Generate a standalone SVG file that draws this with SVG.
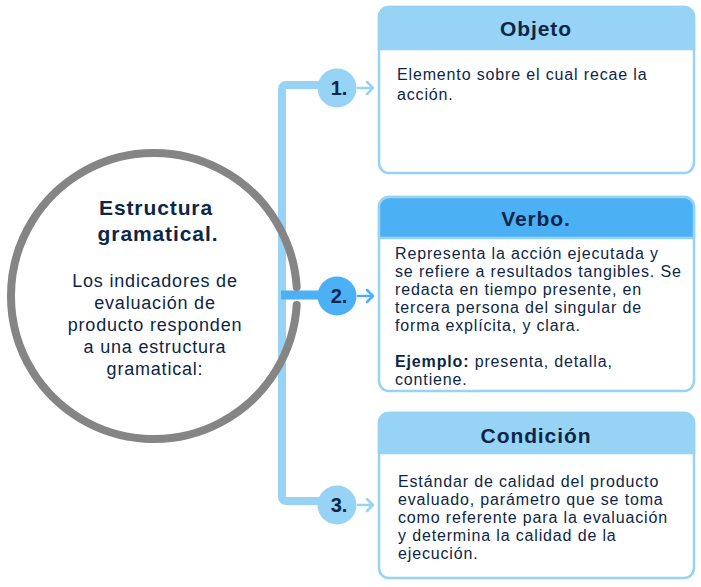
<svg xmlns="http://www.w3.org/2000/svg" width="701" height="587" viewBox="0 0 701 587">
<style>
text{font-family:"Liberation Sans",Arial,sans-serif;fill:#0d2647}
.t{font-size:21px;font-weight:bold;text-anchor:middle;letter-spacing:0.9px}
.b{font-size:16px;letter-spacing:0.85px}
.c{font-size:18px;text-anchor:middle;letter-spacing:0.8px}
.n{font-size:20px;font-weight:bold;text-anchor:middle}
.box{fill:#fff;stroke:#97d3f4;stroke-width:2.5}
.arr{fill:none;stroke:#97d3f4;stroke-width:2.5;stroke-linecap:round;stroke-linejoin:round}
</style>
<rect width="701" height="587" fill="#fff"/>
<g id="connectors">
<path d="M338 85 H286 a4 4 0 0 0 -4 4 V497 a4 4 0 0 0 4 4 H338" fill="none" stroke="#97d3f4" stroke-width="8"/>
<path d="M281 295 H338" fill="none" stroke="#4cb0f5" stroke-width="9"/>
<path class="arr" d="M358 88 H373 M367 82 L373 88 L367 94"/>
<path class="arr" d="M358 296 H373 M367 290 L373 296 L367 302" style="stroke:#4cb0f5"/>
<path class="arr" d="M358 505 H373 M367 499 L373 505 L367 511"/>
</g>
<g id="center">
<path d="M296.7 287 A143 143 0 1 0 296.7 305" fill="none" stroke="#858585" stroke-width="8" stroke-linecap="round"/>
<text class="t" x="156" y="215">Estructura</text>
<text class="t" x="158" y="241">gramatical.</text>
<text class="c" x="155" y="287">Los indicadores de</text>
<text class="c" x="155" y="309">evaluación de</text>
<text class="c" x="155" y="331">producto responden</text>
<text class="c" x="155" y="353">a una estructura</text>
<text class="c" x="155" y="375">gramatical:</text>
</g>
<g id="n1">
<circle cx="337" cy="88" r="19.5" fill="#97d3f4"/>
<text class="n" x="339" y="95">1.</text>
</g>
<g id="n2">
<circle cx="337" cy="296" r="19.5" fill="#4cb0f5"/>
<text class="n" x="339" y="303">2.</text>
</g>
<g id="n3">
<circle cx="337" cy="505" r="19.5" fill="#97d3f4"/>
<text class="n" x="339" y="512">3.</text>
</g>
<g id="objeto">
<rect class="box" x="379" y="7" width="315" height="166" rx="10"/>
<path d="M379 49 V17 a10 10 0 0 1 10 -10 H684 a10 10 0 0 1 10 10 V49 Z" fill="#97d3f4" stroke="#97d3f4" stroke-width="2.5"/>
<text class="t" x="536" y="36">Objeto</text>
<text class="b" x="397" y="80">Elemento sobre el cual recae la</text>
<text class="b" x="397" y="100">acción.</text>
</g>
<g id="verbo">
<rect class="box" x="379" y="197" width="315" height="194" rx="10"/>
<path d="M379 238 V207 a10 10 0 0 1 10 -10 H684 a10 10 0 0 1 10 10 V238 Z" fill="#4cb0f5" stroke="#97d3f4" stroke-width="2.5"/>
<text class="t" x="536" y="226">Verbo.</text>
<text class="b" x="395" y="259">Representa la acción ejecutada y</text>
<text class="b" x="395" y="277">se refiere a resultados tangibles. Se</text>
<text class="b" x="395" y="295">redacta en tiempo presente, en</text>
<text class="b" x="395" y="313">tercera persona del singular de</text>
<text class="b" x="395" y="331">forma explícita, y clara.</text>
<text class="b" x="395" y="367"><tspan font-weight="bold">Ejemplo:</tspan> presenta, detalla,</text>
<text class="b" x="395" y="385">contiene.</text>
</g>
<g id="condicion">
<rect class="box" x="379" y="413" width="315" height="165" rx="10"/>
<path d="M379 453 V423 a10 10 0 0 1 10 -10 H684 a10 10 0 0 1 10 10 V453 Z" fill="#97d3f4" stroke="#97d3f4" stroke-width="2.5"/>
<text class="t" x="536" y="443">Condición</text>
<text class="b" x="398" y="487">Estándar de calidad del producto</text>
<text class="b" x="398" y="505">evaluado, parámetro que se toma</text>
<text class="b" x="398" y="523">como referente para la evaluación</text>
<text class="b" x="398" y="541">y determina la calidad de la</text>
<text class="b" x="398" y="559">ejecución.</text>
</g>
</svg>
